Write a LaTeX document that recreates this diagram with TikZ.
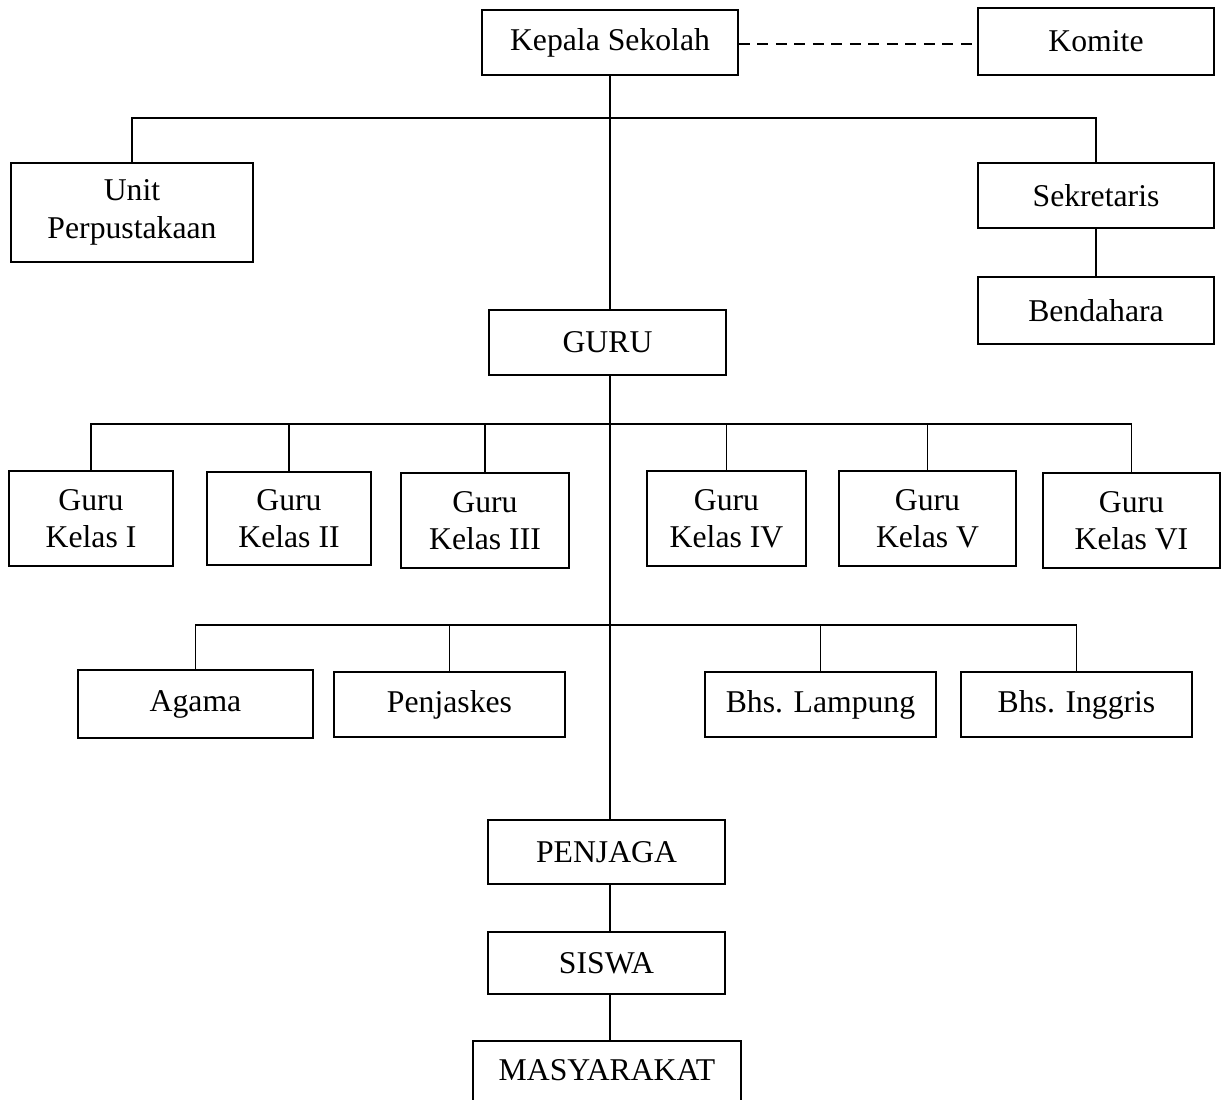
\documentclass[tikz,border=0pt]{standalone}
\usepackage{fontspec}
\setmainfont{Liberation Serif}
\begin{document}
\begin{tikzpicture}[x=1pt,y=-1pt,
  box/.style={draw, line width=1.8pt, rectangle, inner sep=0pt, align=center,
    font=\fontsize{31.7}{37.5}\selectfont},
  plain/.style={rectangle, inner sep=0pt, align=center,
    font=\fontsize{31.7}{37.5}\selectfont},
  conn/.style={line width=1.8pt},
  dashconn/.style={line width=1.8pt, dash pattern=on 11pt off 7.5pt}]
\useasboundingbox (0,0) rectangle (1222,1099);
% top level
\node[box, minimum width=256pt, minimum height=65pt] (kepala) at (610,42.5) {Kepala Sekolah};
\node[box, minimum width=236pt, minimum height=67pt] (komite) at (1096,41.5) {Komite};
\node[box, minimum width=242pt, minimum height=99pt] (unit) at (132,212.5) {Unit\\Perpustakaan};
\node[box, minimum width=236pt, minimum height=65pt] (sekretaris) at (1096,195.5) {Sekretaris};
\node[box, minimum width=236pt, minimum height=67pt] (bendahara) at (1096,310.5) {Bendahara};
\node[box, minimum width=237pt, minimum height=65pt] (guru) at (607.5,342.5) {GURU};
% guru kelas
\node[box, minimum width=164pt, minimum height=95pt] (k1) at (91,518.5) {Guru\\Kelas I};
\node[box, minimum width=164pt, minimum height=93pt] (k2) at (289,518.5) {Guru\\Kelas II};
\node[box, minimum width=168pt, minimum height=95pt] (k3) at (485,520.5) {Guru\\Kelas III};
\node[box, minimum width=159pt, minimum height=95pt] (k4) at (726.5,518.5) {Guru\\Kelas IV};
\node[box, minimum width=177pt, minimum height=95pt] (k5) at (927.5,518.5) {Guru\\Kelas V};
\node[box, minimum width=177pt, minimum height=95pt] (k6) at (1131.5,520.5) {Guru\\Kelas VI};
% subject teachers
\node[box, minimum width=235pt, minimum height=68pt] (agama) at (195.5,704) {Agama};
\node[box, minimum width=231pt, minimum height=65pt] (penjaskes) at (449.5,704.5) {Penjaskes};
\node[box, minimum width=231pt, minimum height=65pt] (lampung) at (820.5,704.5) {Bhs. Lampung};
\node[box, minimum width=231pt, minimum height=65pt] (inggris) at (1076.5,704.5) {Bhs. Inggris};
% bottom chain
\node[box, minimum width=237pt, minimum height=64pt] (penjaga) at (606.5,852) {PENJAGA};
\node[box, minimum width=237pt, minimum height=62pt] (siswa) at (606.5,963) {SISWA};
\node[plain, minimum width=268pt, minimum height=66pt] (masy) at (607,1074) {};
\node[plain] (masytext) at (607,1070) {MASYARAKAT};
\draw[conn] (masy.south west) -- (masy.north west) -- (masy.north east) -- (masy.south east);
% junctions
\coordinate (j1) at (610,118);
\coordinate (j2) at (610,424);
\coordinate (j3) at (610,625);
% dashed link
\draw[dashconn] (kepala.east |- 0,44) -- (komite.west |- 0,44);
% main trunk
\draw[conn] (kepala.south -| j1) -- (j1) -- (guru.north -| j1);
\draw[conn] (guru.south -| j1) -- (j2) -- (j3) -- (penjaga.north -| j1);
\draw[conn] (penjaga.south -| j1) -- (siswa.north -| j1);
\draw[conn] (siswa.south -| j1) -- (masy.north -| j1);
% bus 1
\draw[conn] (unit.north) |- (j1) -| (sekretaris.north);
\draw[conn] (sekretaris) -- (bendahara);
% bus 2
\draw[conn] (k1.north) |- (j2) -| (k6.north);
\draw[conn] (k2.north) -- (k2.north |- j2);
\draw[conn] (k3.north) -- (k3.north |- j2);
\draw[conn] (k4.north) -- (k4.north |- j2);
\draw[conn] (k5.north) -- (k5.north |- j2);
% bus 3
\draw[conn] (agama.north) |- (j3) -| (inggris.north);
\draw[conn] (penjaskes.north) -- (penjaskes.north |- j3);
\draw[conn] (lampung.north) -- (lampung.north |- j3);
\end{tikzpicture}
\end{document}
